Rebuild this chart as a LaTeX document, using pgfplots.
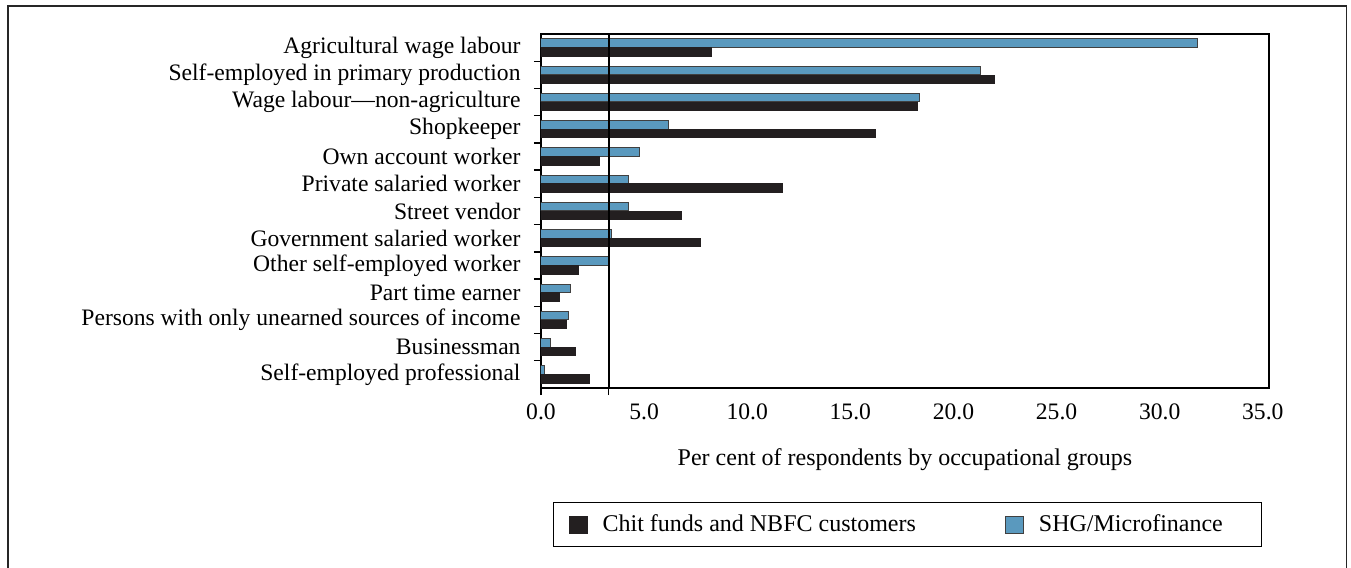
\documentclass[border=0pt]{standalone}
\usepackage{fontspec}
\setmainfont{Liberation Serif}
\usepackage{pgfplots}
\pgfplotsset{compat=1.18}
\definecolor{shg}{RGB}{90,153,190}
\definecolor{chit}{RGB}{35,31,32}

\begin{document}
\begin{tikzpicture}
\useasboundingbox (0pt,0pt) rectangle (675.5pt,284pt);
\draw[line width=0.8pt, black!85] (4pt,-1pt) -- (4pt,281pt) -- (673.3pt,281pt) -- (673.3pt,-1pt);
\begin{axis}[
  at={(270.5pt,90pt)}, anchor=south west,
  width=364pt, height=177pt, scale only axis,
  xmin=0, xmax=35.3, ymin=-0.5, ymax=12.5, y dir=reverse,
  axis line style={line width=0.7pt, black},
  font=\fontsize{11.8}{14}\selectfont,
  /pgf/number format/assume math mode=true,
  xtick={0,5,...,35},
  xticklabel style={/pgf/number format/fixed, /pgf/number format/fixed zerofill, /pgf/number format/precision=1, yshift=-4.5pt},
  ytick={0,...,12},
  yticklabels={Agricultural wage labour,Self-employed in primary production,Wage labour---non-agriculture,Shopkeeper,Own account worker,Private salaried worker,Street vendor,Government salaried worker,Other self-employed worker,Part time earner,Persons with only unearned sources of income,Businessman,Self-employed professional},
  yticklabel style={xshift=-6.7pt},
  minor ytick={0.5,1.5,...,11.5},
  minor xtick={0,3.28},
  major tick length=0pt, minor tick length=3.5pt,
  tick align=outside, tick pos=left,
  every tick/.style={black, line width=0.7pt},
  xlabel={Per cent of respondents by occupational groups},
  xlabel style={at={(axis description cs:0.5,-0.203)}, anchor=center, font=\fontsize{12}{14}\selectfont},
  legend style={at={(axis description cs:0.0165,-0.386)}, anchor=west, legend columns=2, draw=black, line width=0.6pt, inner xsep=7.5pt, inner ysep=4pt, font=\fontsize{12}{14}\selectfont, /tikz/every even column/.append style={column sep=42.5pt}, /tikz/every odd column/.append style={column sep=5.5pt}},
  legend image code/.code={\draw[#1, line width=0.5pt] (0pt,-4.25pt) rectangle (9pt,4.25pt);},
  reverse legend,
]
\addplot[xbar, bar width=4.25pt, bar shift=2.2pt, fill=shg, draw=black!75, line width=0.5pt] coordinates {
(31.85,0) (21.3,1) (18.33,2) (6.2,3) (4.8,4) (4.25,5) (4.25,6) (3.4,7) (3.27,8) (1.44,9) (1.34,10) (0.47,11) (0.15,12)};
\addlegendentry{SHG/Microfinance\hspace{10pt}\mbox{}}
\addplot[xbar, bar width=4.25pt, bar shift=-2.2pt, fill=chit, draw=chit, line width=0.5pt] coordinates {
(8.25,0) (22.0,1) (18.25,2) (16.2,3) (2.86,4) (11.7,5) (6.8,6) (7.75,7) (1.8,8) (0.92,9) (1.25,10) (1.66,11) (2.34,12)};
\addlegendentry{Chit funds and NBFC customers}
\addplot[black, line width=1pt, forget plot] coordinates {(3.28,-0.5) (3.28,12.5)};
\end{axis}
\end{tikzpicture}
\end{document}
